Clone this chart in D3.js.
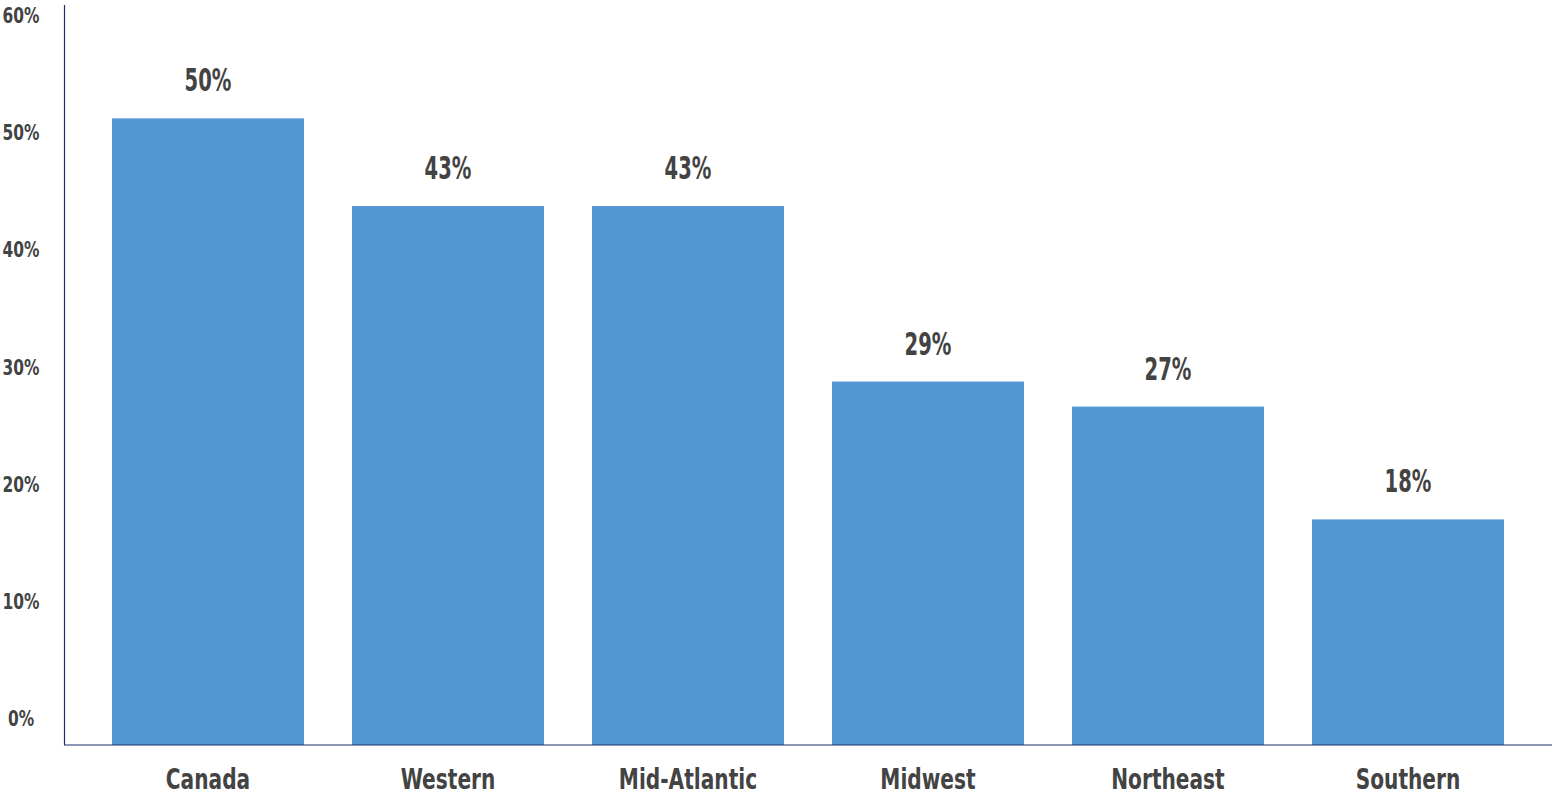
<!DOCTYPE html>
<html>
<head>
<meta charset="utf-8">
<script src="https://cdn.jsdelivr.net/npm/d3@7.9.0/dist/d3.min.js"></script>
<style>
  html, body { margin: 0; padding: 0; background: #fff; }
  svg { display: block; }
  text { font-family: "DejaVu Sans Condensed", "DejaVu Sans", sans-serif; font-weight: bold; fill: #434343; }
</style>
</head>
<body>
<svg width="1553" height="796"></svg>
<script>
const regions = ['Canada', 'Western', 'Mid-Atlantic', 'Midwest', 'Northeast', 'Southern'];
const shares = [50, 43, 43, 29, 27, 18];
const yTicks = [0, 10, 20, 30, 40, 50, 60];

const svg = d3.select('svg');

let x = d3.scaleBand().domain(regions).range([64, 1552]).paddingInner(0.2).paddingOuter(0.2);
let y = d3.scaleLinear().domain([0, 60]).range([745, -7]);
// tick labels sit on their own spacing in the original (baselines)
let yLabel = d3.scaleLinear().domain([0, 60]).range([726, 23]);

// narrow font look: squeeze glyphs horizontally
const squeeze = (px, py, s) => `translate(${px},${py}) scale(${s},1)`;

svg.selectAll('rect.bar')
  .data(regions)
  .join('rect')
  .attr('class', 'bar')
  .attr('x', d => x(d))
  .attr('width', x.bandwidth())
  .attr('y', (d, i) => y(shares[i]))
  .attr('height', (d, i) => y(0) - y(shares[i]))
  .attr('fill', '#5297d3');

svg.selectAll('text.val')
  .data(regions)
  .join('text')
  .attr('class', 'val')
  .attr('transform', (d, i) => squeeze(x(d) + x.bandwidth() / 2, y(shares[i]) - 27, 0.68))
  .attr('text-anchor', 'middle')
  .attr('font-size', 32)
  .text((d, i) => shares[i] + '%');

svg.selectAll('text.cat')
  .data(regions)
  .join('text')
  .attr('class', 'cat')
  .attr('transform', d => squeeze(x(d) + x.bandwidth() / 2, 789, 0.8))
  .attr('text-anchor', 'middle')
  .attr('font-size', 28)
  .text(d => d);

svg.selectAll('text.tick')
  .data(yTicks)
  .join('text')
  .attr('class', 'tick')
  .attr('transform', d => squeeze(21, yLabel(d), 0.78))
  .attr('text-anchor', 'middle')
  .attr('font-size', 22)
  .text(d => d + '%');

svg.append('line')
  .attr('x1', 64.5).attr('x2', 64.5)
  .attr('y1', 5).attr('y2', y(0))
  .attr('stroke', '#1f2d6b').attr('stroke-width', 1.2);

svg.append('line')
  .attr('x1', 64).attr('x2', 1552)
  .attr('y1', y(0)).attr('y2', y(0))
  .attr('stroke', '#1f2d6b').attr('stroke-width', 1.2);
</script>
</body>
</html>
